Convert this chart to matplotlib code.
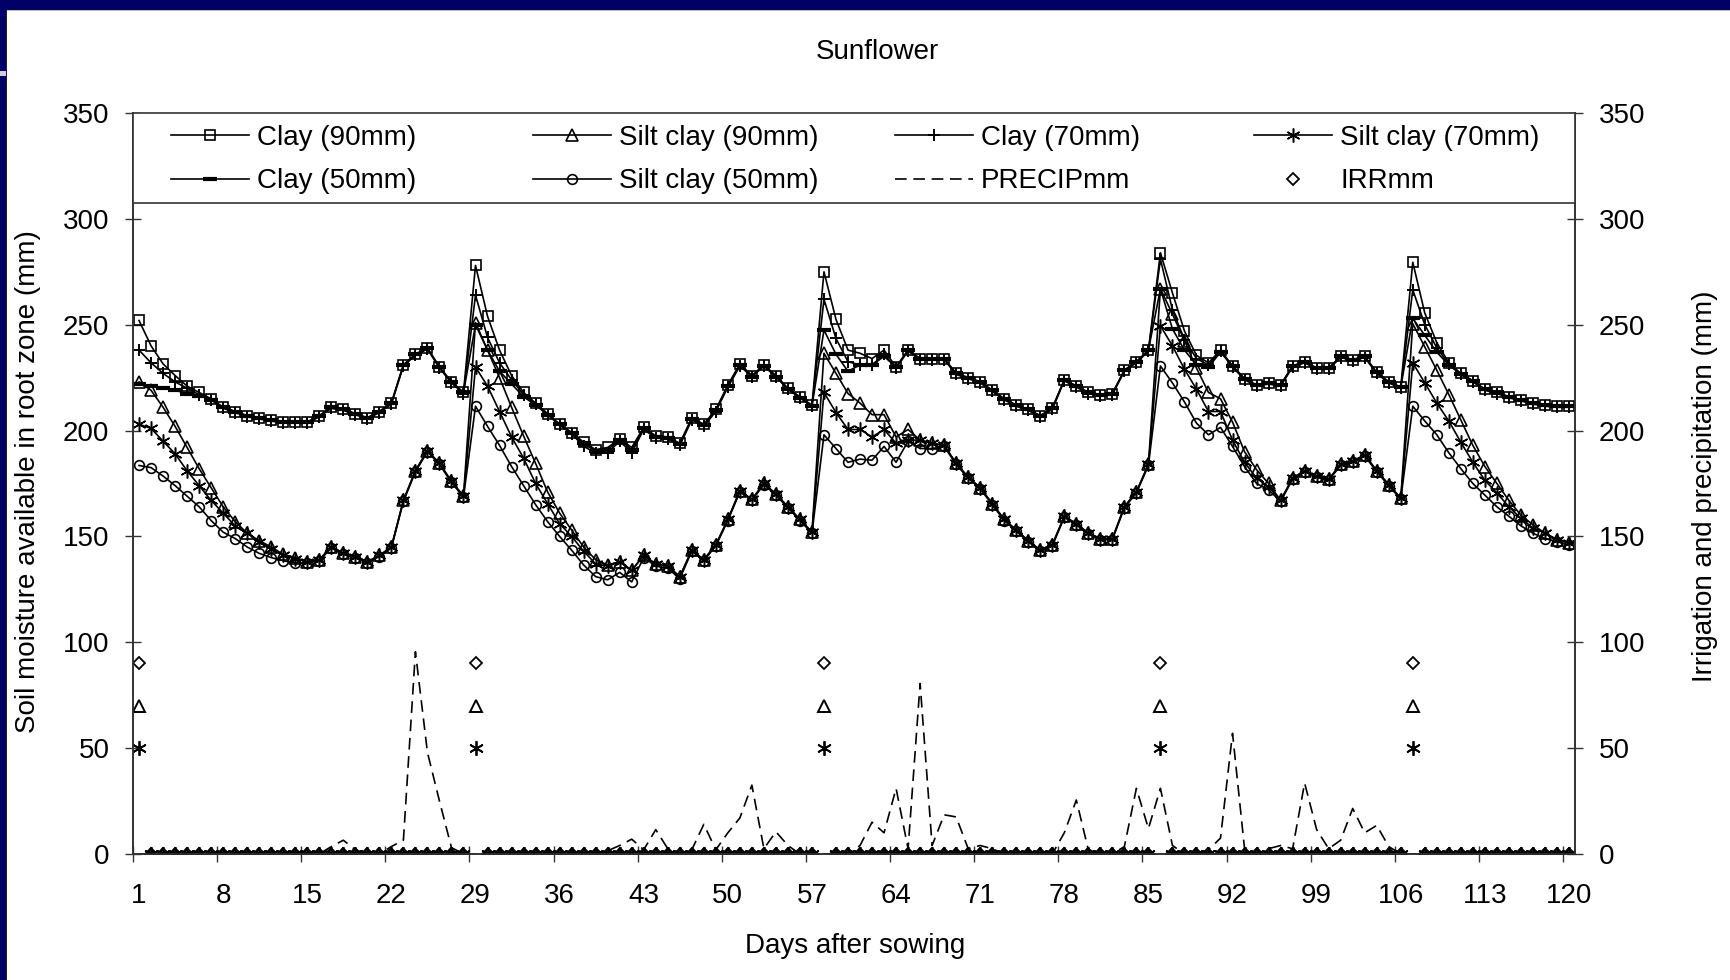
import matplotlib
matplotlib.use("Agg")
import matplotlib.pyplot as plt
from matplotlib.legend import Legend
from matplotlib.patches import Rectangle

plt.rcParams['font.family'] = ['Liberation Sans', 'DejaVu Sans']

# Days after sowing
days = list(range(1, 121))

# Soil moisture available in root zone (mm)
clay_90 = [252, 240, 231.5, 226, 221, 218, 215, 211, 209, 207,
           206, 205, 204, 204, 204, 207, 211, 210, 208, 206,
           209, 213, 231, 236, 239, 230, 223, 218, 278, 254,
           238, 226, 218, 213, 208, 203, 199, 194.5, 191, 192,
           196, 192, 201.5, 197.5, 197, 194, 206, 203, 210, 221.5,
           231.5, 226, 231, 226, 220, 216, 212, 275, 252.5, 238,
           236.5, 234, 238, 230, 238, 234, 234, 234, 227, 225,
           223, 219, 215, 212, 210, 207, 210.5, 224, 221, 218,
           217, 217.5, 228.5, 232.5, 238, 284, 265, 247, 235.5, 232,
           238, 230.5, 224.5, 221.5, 222.5, 221.5, 230.5, 232.5, 229.5, 229.5,
           235, 233.5, 235, 227.5, 223, 220.5, 279.5, 255.5, 241.5, 232,
           227, 223.5, 219.5, 218, 216, 214.5, 213, 212, 211.5, 211.5]

clay_70 = [238, 232, 227, 223, 220, 217, 214.5, 210.5, 208.5, 206.5,
           205.5, 204.5, 203.5, 203.5, 203.5, 206.5, 210.5, 209.5, 207.5, 205.5,
           208.5, 212.5, 230.5, 235.5, 238.5, 229.5, 222.5, 217.5, 264, 244,
           232, 224, 217, 212.5, 207.5, 202.5, 198.5, 192.5, 189.5, 189.5,
           195, 189.5, 200.5, 196.5, 196, 193, 205, 202, 209, 220.5,
           230.5, 225.5, 230.5, 225.5, 219.5, 215.5, 211.5, 262, 243.5, 232.5,
           231, 231, 236, 229.5, 237.5, 233.5, 233.5, 233.5, 226.5, 224.5,
           222.5, 218.5, 214.5, 211.5, 209.5, 206.5, 210, 223.5, 220.5, 217.5,
           216.5, 217, 228, 232, 237.5, 281, 257, 243, 234, 231,
           237.5, 230, 224, 221, 222, 221, 230, 232, 229, 229,
           234.5, 233, 234.5, 227, 222.5, 220, 266.5, 250, 239, 231.5,
           226.5, 223, 219, 217.5, 215.5, 214, 212.5, 211.5, 211, 211]

clay_50 = [222, 221, 220, 219, 217.5, 216.5, 214.5, 211, 209, 207,
           206, 205, 204, 204, 204, 207, 211, 210, 208, 206,
           209, 213, 231, 236, 239, 230, 223, 218, 250, 238,
           228, 222, 216, 212, 207.5, 203, 199, 194, 190.5, 191,
           195.5, 191, 201, 197, 196.5, 193.5, 205.5, 202.5, 209.5, 221,
           231, 225.5, 230.5, 225.5, 219.5, 215.5, 211.5, 247.5, 236, 228,
           231, 231, 235, 230, 238, 234, 234, 234, 227, 225,
           223, 219, 215, 212, 210, 207, 210.5, 224, 221, 218,
           217, 217.5, 228.5, 232.5, 238, 267, 248, 238, 231, 230,
           237, 230.5, 224.5, 221.5, 222.5, 221.5, 230.5, 232.5, 229.5, 229.5,
           235, 233.5, 235, 227.5, 223, 220.5, 253, 245, 237, 231,
           226.5, 223.5, 219.5, 218, 216, 214.5, 213, 212, 211.5, 211.5]

silt_90 = [223, 219, 211, 202, 192, 182, 173, 164, 157, 151.5,
           148, 145, 141.5, 140, 138, 139, 145, 142, 140.5, 138,
           141, 145, 167, 181, 190.5, 184.5, 176, 169, 251, 238,
           225, 211, 197.5, 184.5, 171, 161, 153, 145, 139, 136.5,
           138, 134, 141, 137, 136, 131, 143.5, 139, 146, 158,
           171.5, 167.5, 175, 170, 164, 158, 152, 236.5, 227, 217.5,
           213, 207.5, 207.5, 197, 200.5, 195.5, 194, 193, 184.5, 178,
           173, 165.5, 158, 153, 148, 143.5, 146, 159.5, 156, 151.5,
           149, 149, 164, 171, 184, 267, 255, 242.5, 229.5, 218,
           215, 204, 190, 181.5, 175, 167, 177.5, 181, 178.5, 177,
           184, 185.5, 188.5, 181, 174.5, 168, 250.5, 239.5, 228.5, 217,
           205, 193, 183, 175, 167, 160, 155.5, 151.5, 148.5, 147]

silt_70 = [203, 201, 195, 189, 181, 174, 167, 161, 155, 151.5,
           147.5, 144, 141, 139.5, 138, 139, 145, 142, 140.5, 138,
           141, 145, 167, 181, 190.5, 184.5, 176, 169, 230, 221,
           209, 197, 187, 175, 165.5, 156, 150, 143, 137, 136,
           138, 134, 141, 137, 136, 131, 143.5, 139, 146, 158,
           171.5, 167.5, 175, 170, 164, 158, 152, 218, 208.5, 200.5,
           200.5, 197, 200.5, 194, 195.5, 195.5, 194, 193, 184.5, 178,
           173, 165.5, 158, 153, 148, 143.5, 146, 159.5, 156, 151.5,
           149, 149, 164, 171, 184, 249.5, 240, 229, 219.5, 209,
           209, 195.5, 185, 177.5, 173.5, 167, 177.5, 181, 178.5, 177,
           184, 185.5, 188.5, 181, 174.5, 168, 232, 222.5, 213, 204.5,
           194.5, 185, 176.5, 170.5, 164, 158.5, 154, 151.5, 148.5, 147]

silt_50 = [183.5, 182.5, 178.5, 174, 169, 164, 157.5, 152, 149, 145,
           142, 140, 138.5, 137.5, 137.5, 138.5, 144.5, 141.5, 140, 137.5,
           140.5, 144.5, 166.5, 180.5, 190, 184, 175.5, 168.5, 211.5, 202,
           193, 183, 174, 165, 157, 150, 143.5, 136.5, 131, 129.5,
           133, 128.5, 140, 136, 135, 130, 143, 138.5, 145.5, 157.5,
           171, 167, 174.5, 169.5, 163.5, 157.5, 151.5, 198, 191.5, 185,
           186.5, 186, 192.5, 185, 195, 191.5, 191.5, 192.5, 184, 177.5,
           172.5, 165, 157.5, 152.5, 147.5, 143, 145.5, 159, 155.5, 151,
           148.5, 148.5, 163.5, 170.5, 183.5, 230.5, 222.5, 213.5, 203.5, 198,
           201.5, 192.5, 183, 175, 172, 166.5, 177, 180.5, 178, 176.5,
           183.5, 185, 188, 180.5, 174, 167.5, 211.5, 204.5, 198, 189.5,
           182, 175, 169.5, 164, 159.5, 155, 151.5, 149, 147.5, 146]

# Irrigation and precipitation (mm), right axis
precip = [0, 0, 0, 0, 0, 0, 0, 0, 0, 0,
          0, 0, 0, 0, 0, 0, 3.5, 6.5, 2, 0,
          0, 3.5, 6.5, 95.5, 48, 25, 3, 0, 0, 0,
          0, 0, 0, 0, 0, 0, 0, 0, 0, 1.5,
          4, 7, 2, 11.5, 2.5, 0, 2, 14, 2, 10,
          17, 32.5, 2.5, 10.5, 4, 0, 0, 0, 0, 0,
          4, 15, 10, 31, 2.5, 80.5, 4, 18.5, 17.5, 2.5,
          4, 2.5, 0, 0, 0, 0, 0, 10, 25.5, 2,
          0, 0, 3.5, 31, 12, 31, 4, 0, 0, 2,
          7.5, 57, 2.5, 0, 2.5, 4, 2.5, 33.5, 11.5, 2.5,
          6.5, 21.5, 10, 13.5, 3.5, 0, 0, 0, 0, 0,
          0, 0, 0, 0, 0, 0, 0, 0, 0, 0]

irr_days = [1, 29, 58, 86, 107]
irr_90 = [90 if d in irr_days else 0 for d in days]
irr_70 = [70 if d in irr_days else 0 for d in days]
irr_50 = [50 if d in irr_days else 0 for d in days]

x_labels = list(range(1, 121, 7))

NAVY = '#000066'
AXC = '#333333'
FS = 20
STAR = (6, 2, 0)

fig = plt.figure(figsize=(17.3, 9.8), dpi=100)
fig.patch.set_facecolor('white')
ax = fig.add_axes([0.0769, 0.1286, 0.8335, 0.7561])
ax2 = ax.twinx()

lw = 1.2
common = dict(color='black', lw=lw, mfc='none', mec='black')
l_c90, = ax.plot(days, clay_90, marker='s', ms=7, mew=1.2, label='Clay (90mm)', **common)
l_s90, = ax.plot(days, silt_90, marker='^', ms=8.5, mew=1.2, label='Silt clay (90mm)', **common)
l_c70, = ax.plot(days, clay_70, marker='+', ms=9, mew=1.4, label='Clay (70mm)', **common)
l_s70, = ax.plot(days, silt_70, marker=STAR, ms=10, mew=1.1, label='Silt clay (70mm)', **common)
l_c50, = ax.plot(days, clay_50, marker='_', ms=10, mew=3, label='Clay (50mm)', **common)
l_s50, = ax.plot(days, silt_50, marker='o', ms=7, mew=1.2, label='Silt clay (50mm)', **common)

l_pr, = ax2.plot(days, precip, color='black', lw=1.2, ls=(0, (7, 4)), label='PRECIPmm')
l_i90, = ax2.plot(days, irr_90, ls='none', marker='D', ms=6.5, mfc='none', mec='black', mew=1.3, label='IRRmm')
ax2.plot(days, irr_70, ls='none', marker='^', ms=9, mfc='none', mec='black', mew=1.4)
ax2.plot(days, irr_50, ls='none', marker=STAR, ms=10.5, mfc='none', mec='black', mew=1.3)

for a in (ax, ax2):
    a.set_xlim(0.5, 120.5)
    a.set_ylim(0, 350)
    a.set_yticks(range(0, 351, 50))
    a.tick_params(axis='y', direction='inout', length=12, width=1, pad=11, labelsize=FS, color=AXC)
    a.spines['top'].set_visible(False)
    for s in ('left', 'right', 'bottom'):
        a.spines[s].set_color(AXC)
        a.spines[s].set_linewidth(1.2)

ax.set_xticks(x_labels)
ax.set_xticks([0.5 + 7 * k for k in range(18)], minor=True)
ax.tick_params(axis='x', which='major', length=0, pad=21, labelsize=FS)
ax.tick_params(axis='x', which='minor', direction='inout', length=12, width=1, color=AXC)

# legend box across the top of the plot area
ax2.add_patch(Rectangle((0, 0.8785), 1, 0.1215, transform=ax2.transAxes, facecolor='white',
                        edgecolor=AXC, lw=1.2, zorder=4, clip_on=False))
columns = [[l_c90, l_c50], [l_s90, l_s50], [l_c70, l_pr], [l_s70, l_i90]]
col_x = [0.0264, 0.2774, 0.5284, 0.7774]
for hs, cx in zip(columns, col_x):
    leg = Legend(ax2, hs, [h.get_label() for h in hs], loc='center left',
                 bbox_to_anchor=(cx, 0.937), borderaxespad=0, borderpad=0, frameon=False,
                 fontsize=FS, handlelength=2.8, handletextpad=0.3, labelspacing=0.62,
                 numpoints=1)
    leg.set_zorder(5)
    ax2.add_artist(leg)

fig.text(877 / 1730, 1 - 52 / 980, 'Sunflower', ha='center', va='center', fontsize=FS)
fig.text(28 / 1730, 1 - 482 / 980, 'Soil moisture available in root zone (mm)', rotation=90,
         ha='center', va='center', fontsize=FS)
fig.text(1705 / 1730, 1 - 486 / 980, 'Irrigation and precipitation (mm)', rotation=90,
         ha='center', va='center', fontsize=FS)
fig.text(855 / 1730, 1 - 946 / 980, 'Days after sowing', ha='center', va='center', fontsize=FS)

# slide frame
fig.patches.append(Rectangle((0, 1 - 10 / 980), 1, 10 / 980, transform=fig.transFigure,
                             facecolor=NAVY, edgecolor='none'))
fig.patches.append(Rectangle((0, 1 - 11 / 980), 1, 1 / 980, transform=fig.transFigure,
                             facecolor='#c0c0c0', edgecolor='none'))
fig.patches.append(Rectangle((0, 0), 6 / 1730, 1, transform=fig.transFigure,
                             facecolor=NAVY, edgecolor='none'))
fig.patches.append(Rectangle((6 / 1730, 0), 1 / 1730, 1 - 10 / 980, transform=fig.transFigure,
                             facecolor='#202020', edgecolor='none'))
fig.patches.append(Rectangle((0, 1 - 76 / 980), 6 / 1730, 5 / 980, transform=fig.transFigure,
                             facecolor='#d0d0d0', edgecolor='none'))

fig.savefig('out.png', dpi=100, facecolor='white')
